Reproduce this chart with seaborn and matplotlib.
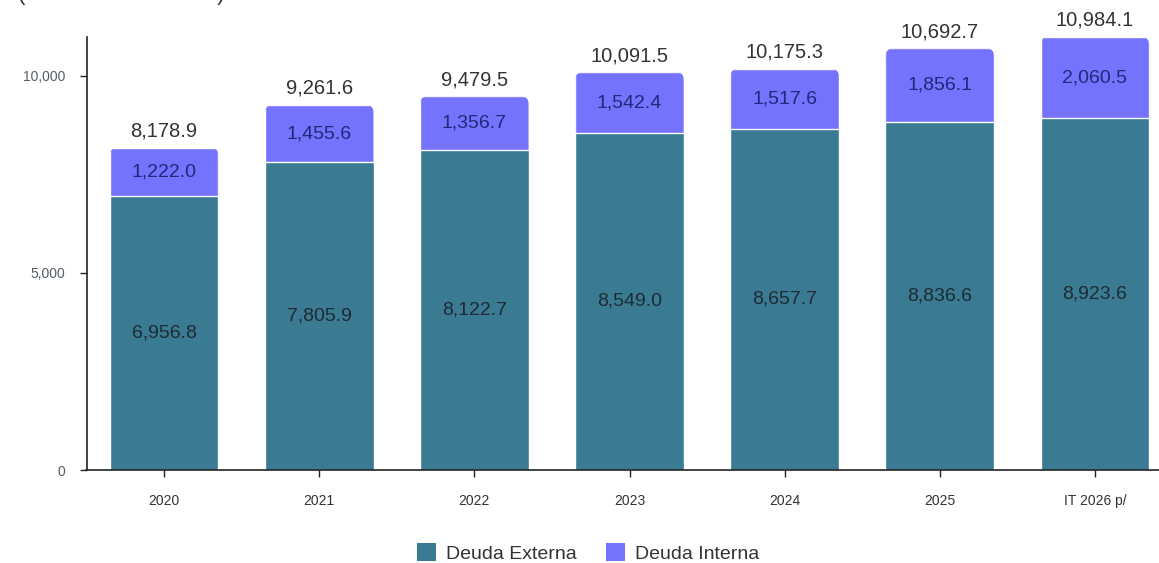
import matplotlib
matplotlib.use("Agg")
import matplotlib.pyplot as plt
import seaborn as sns
import pandas as pd
from matplotlib.patches import FancyBboxPatch, Patch

years = ["2020", "2021", "2022", "2023", "2024", "2025", "IT 2026 p/"]
externa = [6956.8, 7805.9, 8122.7, 8549.0, 8657.7, 8836.6, 8923.6]
interna = [1222.0, 1455.6, 1356.7, 1542.4, 1517.6, 1856.1, 2060.5]
totales = [8178.9, 9261.6, 9479.5, 10091.5, 10175.3, 10692.7, 10984.1]
yticks = [0, 5000, 10000]

C_EXT = "#3a7b93"
C_INT = "#7573fd"

sns.set_theme(style="white")
plt.rcParams["font.family"] = ["Liberation Sans", "DejaVu Sans"]

fig = plt.figure(figsize=(11.59, 5.63), dpi=100)
W, H = 1159, 563
left, right, bottom, top = 86.5, 1172.5, 470, 37
ax = fig.add_axes([left / W, 1 - bottom / H, (right - left) / W, (bottom - top) / H])

df = pd.DataFrame({"year": years, "ext": externa, "tot": [e + i for e, i in zip(externa, interna)]})

sns.barplot(data=df, x="year", y="tot", color=C_INT, width=0.7, saturation=1,
            edgecolor="white", linewidth=1.0, ax=ax)
n_int = len(ax.patches)
sns.barplot(data=df, x="year", y="ext", color=C_EXT, width=0.7, saturation=1,
            edgecolor="white", linewidth=1.0, ax=ax)

ax.set_xlim(-0.5, len(years) - 0.5)
ax.set_ylim(0, max(totales))

# rounded top corners for interna bars
px_x = (right - left) / len(years)
px_y = (bottom - top) / max(totales)
aspect = px_x / px_y
for p in ax.patches[:n_int]:
    x0, w, h = p.get_x(), p.get_width(), p.get_height()
    clip = FancyBboxPatch((x0, -2000), w, h + 2000,
                          boxstyle="round,pad=0,rounding_size=0.05",
                          mutation_aspect=aspect, transform=ax.transData,
                          facecolor="none", edgecolor="none")
    p.set_clip_path(clip)

for i in range(len(years)):
    e, it, t = externa[i], interna[i], totales[i]
    ax.text(i, e / 2, f"{e:,.1f}", ha="center", va="center", fontsize=14, color="#1e2a33")
    ax.text(i, e + it / 2, f"{it:,.1f}", ha="center", va="center", fontsize=14, color="#1c2a7a")
    ax.text(i, t + 420, f"{t:,.1f}", ha="center", va="center", fontsize=14.5, color="#333333")

ax.set_yticks(yticks)
ax.set_yticklabels([f"{v:,}" for v in yticks], fontsize=10, color="#555e66")
ax.tick_params(axis="x", labelsize=10, labelcolor="#333333", length=5, width=1, color="#222222", pad=12, bottom=True)
ax.tick_params(axis="y", length=5, width=1, color="#222222", pad=10, left=True)
ax.set_xlabel("")
ax.set_ylabel("")
sns.despine(ax=ax, top=True, right=True)
for s in ["left", "bottom"]:
    ax.spines[s].set_color("#222222")
    ax.spines[s].set_linewidth(1.2)

handles = [Patch(facecolor=C_EXT, edgecolor="none", label="Deuda Externa"),
           Patch(facecolor=C_INT, edgecolor="none", label="Deuda Interna")]
fig.legend(handles=handles, loc="center", bbox_to_anchor=(588 / W, 1 - 553 / H), ncol=2,
           frameon=False, fontsize=14, handlelength=1.0, handleheight=1.0,
           handletextpad=0.5, columnspacing=1.5, labelcolor="#333333")

fig.text(18 / W, 1.0, "(Millones de dólares)", fontsize=16, va="baseline", ha="left", color="#333333")

fig.savefig("out.png", dpi=100)
